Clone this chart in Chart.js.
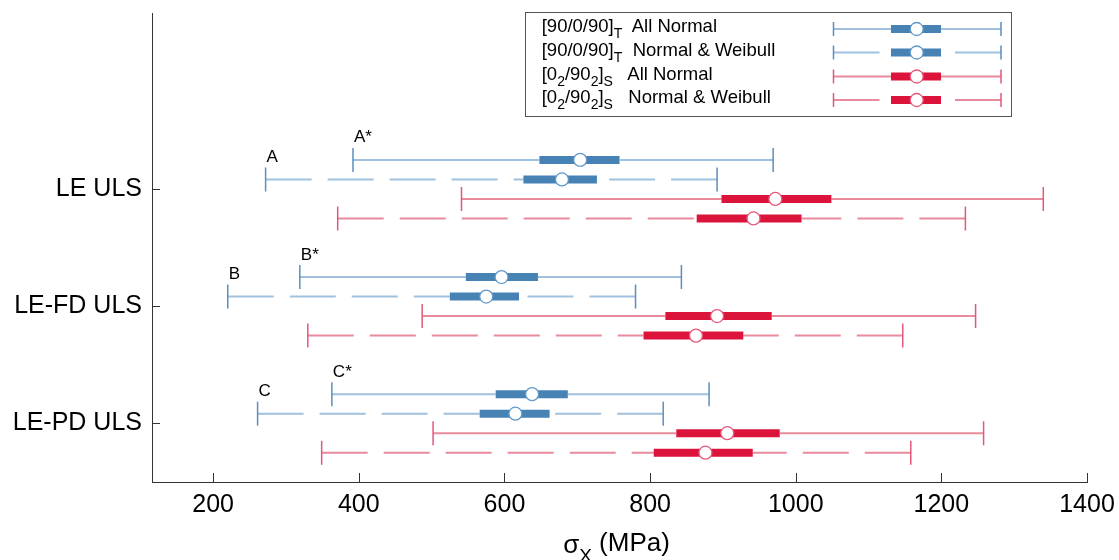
<!DOCTYPE html>
<html><head><meta charset="utf-8">
<script src="https://cdn.jsdelivr.net/npm/chart.js@4.4.0/dist/chart.umd.min.js"></script>
<style>html,body{margin:0;padding:0;background:#fff;}#wrap{width:1119px;height:560px;}</style>
</head><body><div id="wrap"><canvas id="c" width="1119" height="560"></canvas></div>
<script>
// ---------- data ----------
const categories = ['LE ULS', 'LE-FD ULS', 'LE-PD ULS'];
const categoryPos = [3, 2, 1];
const xTicks = [200, 400, 600, 800, 1000, 1200, 1400];

// [90/0/90]_T All Normal
const s1Low  = [392, 319, 363];
const s1Q1   = [648, 547, 588];
const s1Med  = [704, 596, 638];
const s1Q3   = [758, 646, 687];
const s1High = [969, 843, 881];
// [90/0/90]_T Normal & Weibull
const s2Low  = [272, 220, 261];
const s2Q1   = [626, 525, 566];
const s2Med  = [679, 575, 615];
const s2Q3   = [727, 620, 662];
const s2High = [892, 780, 818];
// [0_2/90_2]_S All Normal
const s3Low  = [541, 487, 502];
const s3Q1   = [898, 821, 836];
const s3Med  = [972, 892, 906];
const s3Q3   = [1049, 967, 978];
const s3High = [1340, 1247, 1258];
// [0_2/90_2]_S Normal & Weibull
const s4Low  = [371, 330, 349];
const s4Q1   = [864, 791, 805];
const s4Med  = [942, 863, 876];
const s4Q3   = [1008, 928, 941];
const s4High = [1233, 1147, 1158];

const s1Letters = ['A*', 'B*', 'C*'];
const s2Letters = ['A', 'B', 'C'];

// legend text pieces: [text, kind] (0 normal, 1 subscript, 2 description)
const legendTexts = [
  [['[90/0/90]', 0], ['T', 1], ['All Normal', 2]],
  [['[90/0/90]', 0], ['T', 1], ['Normal & Weibull', 2]],
  [['[0', 0], ['2', 1], ['/90', 0], ['2', 1], [']', 0], ['S', 1], ['All Normal', 2]],
  [['[0', 0], ['2', 1], ['/90', 0], ['2', 1], [']', 0], ['S', 1], ['Normal & Weibull', 2]]
];

// ---------- styles ----------
const FONT = '"Liberation Sans", Arial, Helvetica, sans-serif';
const seriesData = [
  {lo: s1Low, q1: s1Q1, med: s1Med, q3: s1Q3, hi: s1High, letters: s1Letters},
  {lo: s2Low, q1: s2Q1, med: s2Med, q3: s2Q3, hi: s2High, letters: s2Letters},
  {lo: s3Low, q1: s3Q1, med: s3Med, q3: s3Q3, hi: s3High, letters: null},
  {lo: s4Low, q1: s4Q1, med: s4Med, q3: s4Q3, hi: s4High, letters: null}
];
const BLUE = {box: '#4682b4', whisker: '#a0c1dd', cap: '#5a8ec0', edge: '#6298c9'};
const RED = {box: '#dc143c', whisker: '#ea8a9d', cap: '#e2587a', edge: '#e4587a'};
const DASH = [46, 16];
const seriesStyle = [
  Object.assign({offset: 0.25, dash: []}, BLUE),
  Object.assign({offset: 0.0833, dash: DASH}, BLUE),
  Object.assign({offset: -0.0833, dash: []}, RED),
  Object.assign({offset: -0.25, dash: DASH}, RED)
];

const datasets = [];
seriesData.forEach((sd, si) => {
  const st = seriesStyle[si];
  categories.forEach((cat, gi) => {
    const y = categoryPos[gi] + st.offset;
    const whisk = (a, b) => ({
      data: [{x: a, y: y}, {x: b, y: y}], showLine: true,
      borderColor: st.whisker, borderWidth: 2, borderDash: st.dash, borderCapStyle: 'butt',
      pointRadius: [12, 0], pointStyle: 'line', pointRotation: 90,
      pointBorderColor: st.cap, pointBorderWidth: 1.5, pointBackgroundColor: st.cap,
      order: 3
    });
    datasets.push(whisk(sd.lo[gi], sd.q1[gi]));
    datasets.push(whisk(sd.hi[gi], sd.q3[gi]));
    datasets.push({
      data: [{x: sd.q1[gi], y: y}, {x: sd.q3[gi], y: y}], showLine: true,
      borderColor: st.box, borderWidth: 8, borderCapStyle: 'butt', pointRadius: 0, order: 2
    });
    datasets.push({
      data: [{x: sd.med[gi], y: y}], showLine: false,
      pointStyle: 'circle', pointRadius: 6.5, pointBackgroundColor: '#ffffff',
      pointBorderColor: st.edge, pointBorderWidth: 1.3, order: 1
    });
  });
});

const decor = {
  id: 'decor',
  afterDraw(chart) {
    const ctx = chart.ctx;
    const xs = chart.scales.x, ys = chart.scales.y;
    const area = chart.chartArea;
    ctx.save();
    // inward ticks
    ctx.strokeStyle = '#333'; ctx.lineWidth = 1;
    ctx.beginPath();
    xTicks.forEach(v => {
      const px = Math.round(xs.getPixelForValue(v)) + 0.5;
      ctx.moveTo(px, area.bottom); ctx.lineTo(px, area.bottom - 9);
    });
    categoryPos.forEach(v => {
      const py = Math.round(ys.getPixelForValue(v)) + 0.5;
      ctx.moveTo(area.left, py); ctx.lineTo(area.left + 8, py);
    });
    ctx.stroke();
    // letter annotations
    ctx.fillStyle = '#000'; ctx.font = '17px ' + FONT; ctx.textBaseline = 'alphabetic'; ctx.textAlign = 'left';
    seriesData.forEach((sd, si) => {
      if (!sd.letters) return;
      categories.forEach((c, gi) => {
        const px = xs.getPixelForValue(sd.lo[gi]) + 1;
        const py = ys.getPixelForValue(categoryPos[gi] + seriesStyle[si].offset) - 17.5;
        ctx.fillText(sd.letters[gi], px, py);
      });
    });
    // axis title sigma_X (MPa)
    const cx = (area.left + area.right) / 2 - 3;
    ctx.font = '26px ' + FONT;
    const wS = ctx.measureText('\u03c3').width;
    const wR = ctx.measureText(' (MPa)').width;
    ctx.font = '19px ' + FONT;
    const wX = ctx.measureText('X').width;
    let tx = cx - (wS + wX + wR) / 2;
    const base = 551;
    ctx.font = '26px ' + FONT; ctx.fillText('\u03c3', tx, base + 2); tx += wS;
    ctx.font = '19px ' + FONT; ctx.fillText('X', tx, base + 11); tx += wX;
    ctx.font = '26px ' + FONT; ctx.fillText(' (MPa)', tx, base);
    // legend box
    const L = {x0: 525.5, y0: 12.5, x1: 1011.5, y1: 116.5};
    ctx.fillStyle = '#fff';
    ctx.fillRect(L.x0, L.y0, L.x1 - L.x0, L.y1 - L.y0);
    ctx.strokeStyle = '#555'; ctx.lineWidth = 1;
    ctx.strokeRect(L.x0, L.y0, L.x1 - L.x0, L.y1 - L.y0);
    const rows = [29, 52.5, 76.5, 100];
    const restX = [631.7, 632.7, 627.3, 628.3];
    legendTexts.forEach((pieces, ri) => {
      let x = 541.7; const by = rows[ri] + 3;
      ctx.fillStyle = '#000';
      pieces.forEach(([t, kind]) => {
        if (kind === 2) { ctx.font = '18.5px ' + FONT; ctx.fillText(t, restX[ri], by); return; }
        ctx.font = (kind === 1 ? '14px ' : '18.5px ') + FONT;
        ctx.fillText(t, x, by + (kind === 1 ? 6 : 0));
        x += ctx.measureText(t).width;
      });
      // sample glyph
      const st = seriesStyle[ri];
      const yy = rows[ri];
      ctx.setLineDash(st.dash); ctx.lineCap = 'butt';
      ctx.strokeStyle = st.whisker; ctx.lineWidth = 2;
      ctx.beginPath(); ctx.moveTo(833.5, yy); ctx.lineTo(891, yy); ctx.stroke();
      ctx.beginPath(); ctx.moveTo(1001, yy); ctx.lineTo(941, yy); ctx.stroke();
      ctx.setLineDash([]);
      ctx.strokeStyle = st.cap; ctx.lineWidth = 1.5;
      ctx.beginPath();
      ctx.moveTo(833.5, yy - 7); ctx.lineTo(833.5, yy + 7);
      ctx.moveTo(1001, yy - 7); ctx.lineTo(1001, yy + 7);
      ctx.stroke();
      ctx.strokeStyle = st.box; ctx.lineWidth = 8;
      ctx.beginPath(); ctx.moveTo(891, yy); ctx.lineTo(941, yy); ctx.stroke();
      ctx.fillStyle = '#fff'; ctx.strokeStyle = st.edge; ctx.lineWidth = 1.3;
      ctx.beginPath(); ctx.arc(916.7, yy, 6.5, 0, Math.PI * 2); ctx.fill(); ctx.stroke();
    });
    ctx.restore();
  }
};

new Chart(document.getElementById('c'), {
  type: 'scatter',
  data: {datasets: datasets},
  options: {
    responsive: false, animation: false, events: [],
    layout: {padding: {top: 13, right: 32, left: 0, bottom: 0}},
    plugins: {legend: {display: false}, tooltip: {enabled: false}},
    scales: {
      x: {
        type: 'linear', min: 116, max: 1400,
        afterBuildTicks: s => { s.ticks = xTicks.map(v => ({value: v})); },
        afterFit: s => { s.height = 78; s.paddingLeft = 0; s.paddingRight = 0; },
        ticks: {font: {family: FONT, size: 25}, color: '#000', padding: 8, maxRotation: 0, autoSkip: false,
          callback: v => String(v)},
        grid: {display: false, drawTicks: false},
        border: {display: true, color: '#333', width: 1}
      },
      y: {
        type: 'linear', min: 0.5, max: 4.5,
        afterBuildTicks: s => { s.ticks = categoryPos.map(v => ({value: v})); },
        afterFit: s => { s.width = 152; s.paddingTop = 0; s.paddingBottom = 0; },
        ticks: {
          font: {family: FONT, size: 25}, color: '#000', padding: 10, autoSkip: false,
          callback: v => categories[categoryPos.indexOf(v)]
        },
        grid: {display: false, drawTicks: false},
        border: {display: true, color: '#333', width: 1}
      }
    }
  },
  plugins: [decor]
});
</script></body></html>
